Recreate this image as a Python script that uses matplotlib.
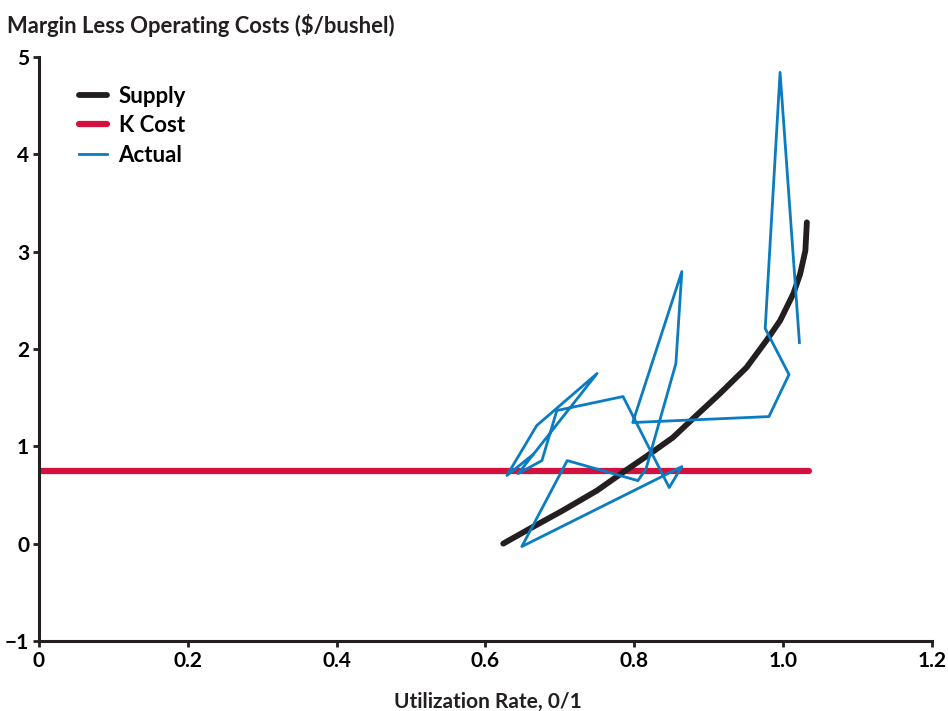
import matplotlib
matplotlib.use('Agg')
import matplotlib.pyplot as plt

plt.rcParams['font.family'] = ['Lato', 'DejaVu Sans']
plt.rcParams['font.weight'] = 'bold'

# supply curve
supply_x = [0.624, 0.660, 0.704, 0.750, 0.785, 0.817, 0.852, 0.884,
            0.915, 0.951, 0.978, 0.996, 1.014, 1.023, 1.030, 1.032]
supply_y = [0.0, 0.155, 0.34, 0.545, 0.733, 0.90, 1.09, 1.32,
            1.54, 1.81, 2.09, 2.29, 2.57, 2.77, 3.01, 3.30]

# capital cost line
kcost_x = [0.0, 1.035]
kcost_y = [0.75, 0.75]

# actual observations (path order)
actual_x = [0.664, 0.629, 0.669, 0.750, 0.644, 0.676, 0.696, 0.785, 0.847,
            0.864, 0.649, 0.710, 0.805, 0.816, 0.856, 0.864, 0.798, 0.981,
            1.008, 0.976, 0.996, 1.022]
actual_y = [0.915, 0.70, 1.213, 1.747, 0.719, 0.853, 1.367, 1.511, 0.576,
            0.791, -0.03, 0.853, 0.647, 0.771, 1.850, 2.795, 1.244, 1.305,
            1.737, 2.210, 4.841, 2.066]

xticks = [0, 0.2, 0.4, 0.6, 0.8, 1.0, 1.2]
xtick_labels = ['0', '0.2', '0.4', '0.6', '0.8', '1.0', '1.2']
yticks = [-1, 0, 1, 2, 3, 4, 5]
ytick_labels = ['\u22121', '0', '1', '2', '3', '4', '5']

fig = plt.figure(figsize=(9.48, 7.11), dpi=100)
ax = fig.add_axes([0.041, 0.0985, 0.942, 0.8215])

ax.plot(supply_x, supply_y, color='#231f20', lw=4.2, solid_capstyle='round',
        solid_joinstyle='round', label='Supply', zorder=3)
ax.plot(kcost_x, kcost_y, color='#d4103f', lw=4.5, solid_capstyle='round',
        label='K Cost', zorder=2)
ax.plot(actual_x, actual_y, color='#0a7cc1', lw=2, label='Actual', zorder=4)

ax.set_xlim(0, 1.2)
ax.set_ylim(-1, 5)
ax.set_xticks(xticks)
ax.set_xticklabels(xtick_labels)
ax.set_yticks(yticks)
ax.set_yticklabels(ytick_labels)

for side in ['top', 'right']:
    ax.spines[side].set_visible(False)
for side in ['left', 'bottom']:
    ax.spines[side].set_linewidth(2.2)
    ax.spines[side].set_color('#231f20')
ax.tick_params(axis='both', direction='out', length=4, width=2,
               labelsize=15, color='#231f20', pad=3)

fig.text(0.007, 0.964, 'Margin Less Operating Costs ($/bushel)', fontsize=15.8,
         fontweight='bold', ha='left', va='center', color='#231f20')
fig.text(0.515, 0.013, 'Utilization Rate, 0/1', fontsize=15,
         fontweight='bold', ha='center', va='center', color='#231f20')

leg = ax.legend(loc='upper left', bbox_to_anchor=(0.022, 0.985), frameon=False,
                fontsize=16, handlelength=1.3, labelspacing=0.38,
                handletextpad=0.5)

fig.savefig('out.png', dpi=100)
